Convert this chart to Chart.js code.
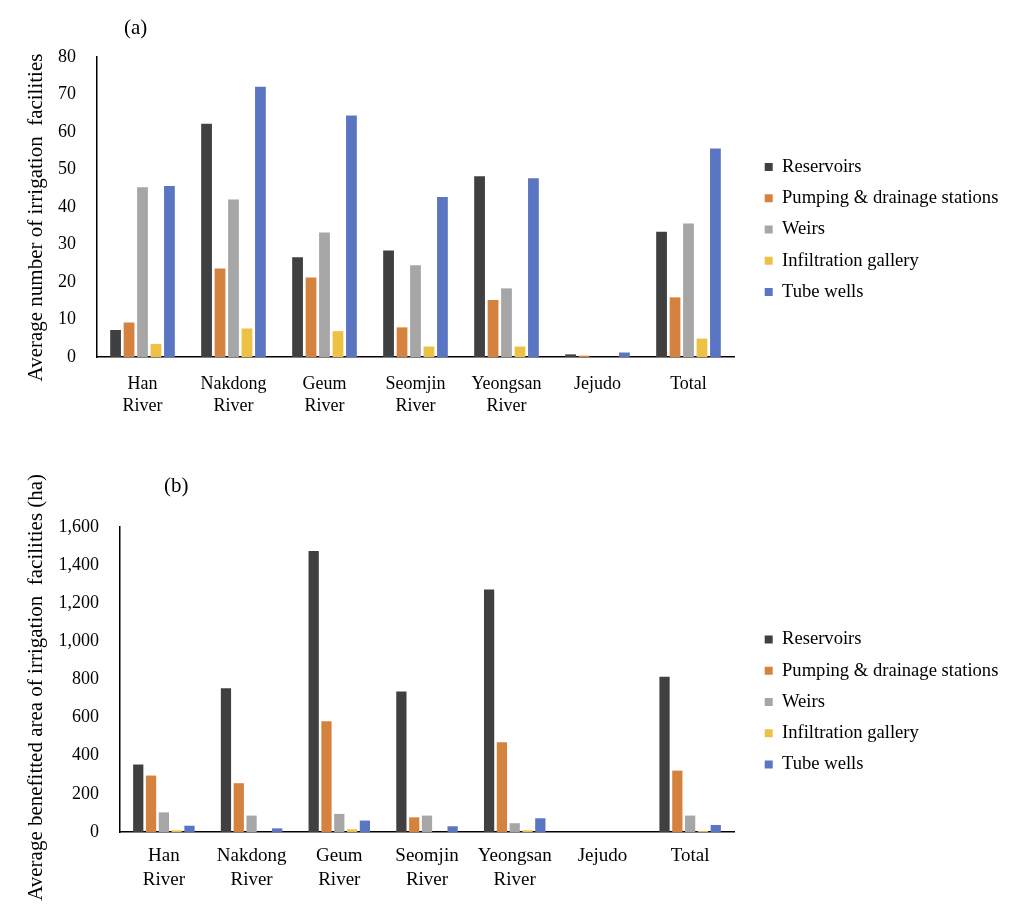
<!DOCTYPE html>
<html lang="en">
<head>
  <meta charset="UTF-8">
  <title>Irrigation facilities by river basin</title>
  <style>
    body {
      margin: 0;
      background: #ffffff;
      overflow: hidden;
    }
    .page {
      position: relative;
      width: 1015px;
      height: 908px;
      font-family: "Liberation Serif", "Times New Roman", serif;
      color: #000;
    }
    .panel {
      position: absolute;
      left: 0;
      width: 1015px;
    }
    canvas {
      display: block;
    }
    .tag {
      position: absolute;
      font-size: 21px;
      line-height: 21px;
    }
  </style>
  <script src="https://cdn.jsdelivr.net/npm/chart.js"></script>
</head>
<body>
  <div class="page">
    <div class="panel" style="top:0;height:430px"><canvas id="chartA" width="1015" height="430"></canvas></div>
    <div class="panel" style="top:440px;height:468px"><canvas id="chartB" width="1015" height="468"></canvas></div>
    <div class="tag" style="left:124px;top:17px">(a)</div>
    <div class="tag" style="left:164px;top:475px">(b)</div>
  </div>

  <script>
    const categories = [['Han', 'River'], ['Nakdong', 'River'], ['Geum', 'River'], ['Seomjin', 'River'], ['Yeongsan', 'River'], 'Jejudo', 'Total'];
    const facilities = ['Reservoirs', 'Pumping & drainage stations', 'Weirs', 'Infiltration gallery', 'Tube wells'];
    const colors = ['#404040', '#d6823f', '#a6a6a6', '#edc244', '#5a75c2'];

    // (a) average number of facilities
    const countReservoirs = [7.2, 62.2, 26.6, 28.4, 48.2, 0.7, 33.4];
    const countPumping = [9.2, 23.6, 21.2, 7.9, 15.2, 0.35, 15.9];
    const countWeirs = [45.3, 42.0, 33.2, 24.5, 18.3, 0, 35.6];
    const countInfiltration = [3.5, 7.6, 6.9, 2.8, 2.8, 0, 4.9];
    const countTubeWells = [45.6, 72.1, 64.4, 42.7, 47.7, 1.2, 55.6];

    // (b) average benefitted area (ha)
    const areaReservoirs = [354, 754, 1474, 737, 1272, 0, 814];
    const areaPumping = [296, 256, 581, 77, 471, 0, 322];
    const areaWeirs = [103, 86, 95, 86, 46, 0, 86];
    const areaInfiltration = [9, 0, 14, 0, 9, 0, 5];
    const areaTubeWells = [33, 19, 60, 30, 72, 0, 37];

    const countTicks = { min: 0, max: 80, step: 10 };
    const areaTicks = { min: 0, max: 1600, step: 200 };

    Chart.defaults.font.family = '"Liberation Serif", "Times New Roman", serif';
    Chart.defaults.color = '#000';
    Chart.defaults.animation = false;

    // legend sits a bit away from the plot and a little below its middle
    const legendGap = {
      id: 'legendGap',
      beforeDraw(chart) {
        const lg = chart.legend;
        const ca = chart.chartArea;
        lg.left = ca.right + 18;
        lg.right = chart.width;
        lg.width = lg.right - lg.left;
        lg.top = ca.top + 22.5;
        lg.bottom = ca.bottom + 22.5;
      }
    };

    function makeDatasets(series, catPct) {
      return series.map((values, i) => ({
        label: facilities[i],
        data: values,
        backgroundColor: colors[i],
        borderWidth: 0,
        barPercentage: 0.8,
        categoryPercentage: catPct
      }));
    }

    function makeChart(id, series, o) {
      new Chart(document.getElementById(id), {
        type: 'bar',
        data: { labels: categories, datasets: makeDatasets(series, o.catPct) },
        plugins: [legendGap],
        options: {
          responsive: false,
          layout: { padding: o.padding },
          plugins: {
            tooltip: { enabled: false },
            legend: {
              position: 'right',
              align: 'center',
              labels: {
                boxWidth: 8,
                boxHeight: 8,
                padding: 12.7,
                font: { size: 18.6 },
                color: '#000'
              }
            }
          },
          scales: {
            x: {
              grid: { display: false, drawTicks: false },
              border: { display: true, color: '#000', width: 1.5 },
              ticks: { font: { size: o.xFont, lineHeight: o.xLine }, padding: o.xPad, maxRotation: 0, autoSkip: false },
              afterFit: s => { s.height = 60; }
            },
            y: {
              min: o.ticks.min,
              max: o.ticks.max,
              grid: { display: false, drawTicks: false },
              border: { display: true, color: '#000', width: 1.5 },
              ticks: {
                stepSize: o.ticks.step,
                font: { size: 18 },
                padding: o.yPad,
                callback: v => v.toLocaleString('en-US')
              },
              title: {
                display: true,
                text: o.title,
                font: { size: 21 },
                padding: { top: 4, bottom: 0 }
              },
              afterFit: s => { s.width = o.yWidth; }
            }
          }
        }
      });
    }

    makeChart('chartA',
      [countReservoirs, countPumping, countWeirs, countInfiltration, countTubeWells],
      {
        catPct: 0.74,
        padding: { left: 20, top: 57, right: 43, bottom: 13 },
        ticks: countTicks,
        title: 'Average number of irrigation  facilities    ',
        xFont: 18, xLine: 1.22, xPad: 16,
        yPad: 21, yWidth: 77
      });

    makeChart('chartB',
      [areaReservoirs, areaPumping, areaWeirs, areaInfiltration, areaTubeWells],
      {
        catPct: 0.73,
        padding: { left: 20, top: 87, right: 43, bottom: 16 },
        ticks: areaTicks,
        title: 'Average benefitted area of irrigation  facilities (ha)   ',
        xFont: 19, xLine: 1.26, xPad: 12,
        yPad: 21, yWidth: 100
      });
  </script>
</body>
</html>
